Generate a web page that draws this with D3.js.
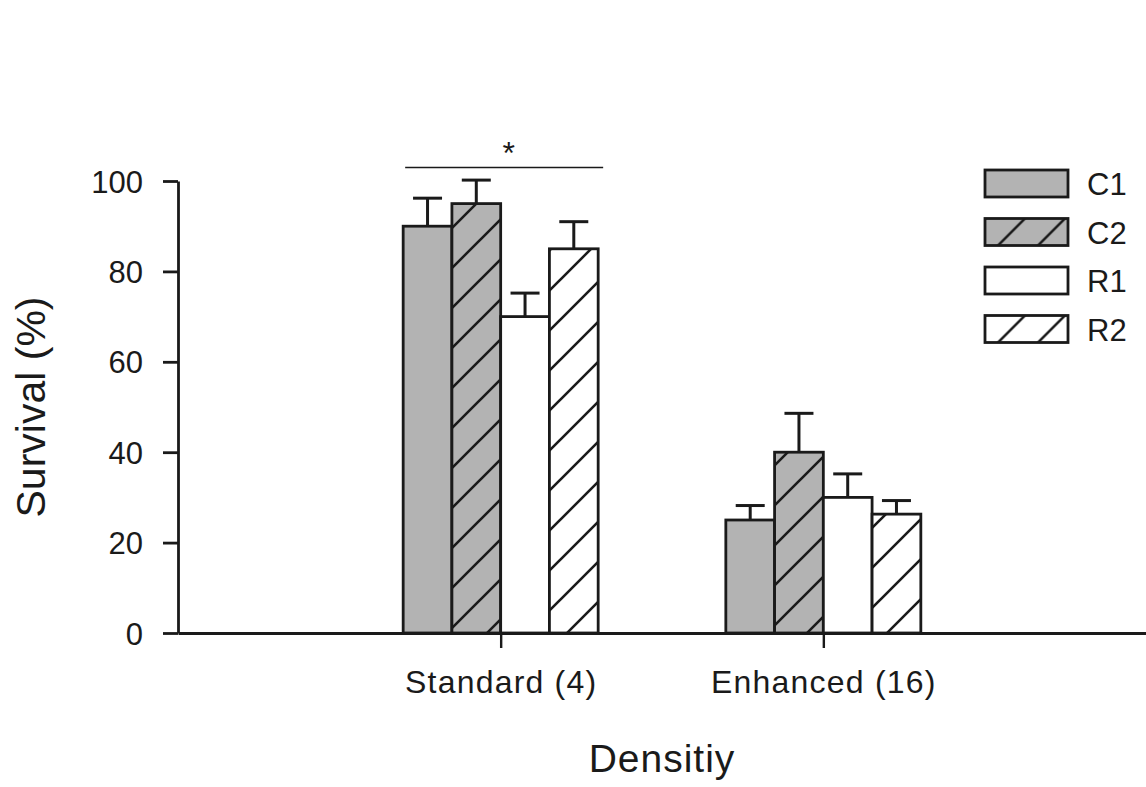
<!DOCTYPE html>
<html>
<head>
<meta charset="utf-8">
<script src="https://cdn.jsdelivr.net/npm/d3@7"></script>
<style>
  body { margin: 0; background: #fff; }
  text { font-family: "Liberation Sans", Arial, sans-serif; fill: #1a1a1a; }
</style>
</head>
<body>
<div id="chart"></div>
<script>
// data
let categories = ["Standard (4)", "Enhanced (16)"];
let series = ["C1", "C2", "R1", "R2"];
let means = {
	C1: [90, 25],
	C2: [95, 40],
	R1: [70, 30],
	R2: [85, 26.3]
};
let errors = {
	C1: [6.2, 3.2],
	C2: [5.2, 8.6],
	R1: [5.2, 5.2],
	R2: [6, 3]
};
let yTicks = [0, 20, 40, 60, 80, 100];
let sigLevel = 103;

let svgWidth = 1146;
let svgHeight = 787;

let fills = { C1: "#b3b3b3", C2: "#b3b3b3", R1: "#ffffff", R2: "#ffffff" };
let hatched = { C1: false, C2: true, R1: false, R2: true };
let ink = "#1a1a1a";

let svg = d3.select("#chart")
	.append("svg")
	.attr("width", svgWidth)
	.attr("height", svgHeight);

// hatch patterns
let defs = svg.append("defs");
["gray", "white"].forEach(name => {
	let p = defs.append("pattern")
		.attr("id", "hatch-" + name)
		.attr("patternUnits", "userSpaceOnUse")
		.attr("width", 40)
		.attr("height", 40);
	p.append("rect")
		.attr("width", 40).attr("height", 40)
		.attr("fill", name == "gray" ? "#b3b3b3" : "#ffffff");
	p.append("path")
		.attr("d", "M-5,45 L45,-5 M-5,5 L5,-5 M35,45 L45,35")
		.attr("stroke", ink)
		.attr("stroke-width", 2.6);
});

function fillFor(s) {
	if (hatched[s]) return fills[s] == "#ffffff" ? "url(#hatch-white)" : "url(#hatch-gray)";
	return fills[s];
}

let x = d3.scalePoint()
	.domain(categories)
	.range([178, 1146])
	.padding(1);

let groupWidth = 195;
let xSub = d3.scaleBand()
	.domain(series)
	.range([-groupWidth / 2, groupWidth / 2]);

let y = d3.scaleLinear()
	.domain([0, 100])
	.range([633, 181]);

// bars
let rows = [];
categories.forEach((c, i) => {
	series.forEach(s => rows.push({ cat: c, s: s, v: means[s][i], e: errors[s][i] }));
});

let bars = svg.append("g");
bars.selectAll("rect")
	.data(rows)
	.enter()
	.append("rect")
	.attr("x", d => x(d.cat) + xSub(d.s))
	.attr("y", d => y(d.v))
	.attr("width", xSub.bandwidth())
	.attr("height", d => y(0) - y(d.v))
	.attr("fill", d => fillFor(d.s))
	.attr("stroke", ink)
	.attr("stroke-width", 2.8);

// error bars (upper only)
let errG = svg.append("g")
	.attr("stroke", ink)
	.attr("stroke-width", 3);
rows.forEach(d => {
	let cx = x(d.cat) + xSub(d.s) + xSub.bandwidth() / 2;
	errG.append("line")
		.attr("x1", cx).attr("x2", cx)
		.attr("y1", y(d.v)).attr("y2", y(d.v + d.e));
	errG.append("line")
		.attr("x1", cx - 14.5).attr("x2", cx + 14.5)
		.attr("y1", y(d.v + d.e)).attr("y2", y(d.v + d.e));
});

// axes
let leftAxis = d3.axisLeft(y)
	.tickValues(yTicks)
	.tickSize(15)
	.tickSizeOuter(0)
	.tickPadding(20);

let yAxisG = svg.append("g")
	.attr("transform", `translate(${x.range()[0]}, 0)`)
	.call(leftAxis);
yAxisG.select(".domain").attr("stroke", ink).attr("stroke-width", 2.8);
yAxisG.selectAll(".tick line").attr("stroke", ink).attr("stroke-width", 2.8);
yAxisG.selectAll(".tick text")
	.attr("font-size", 31)
	.attr("dy", "0.36em")
	.style("font-family", "'Liberation Sans', Arial, sans-serif")
	.attr("fill", ink);

let bottomAxis = d3.axisBottom(x)
	.tickSize(15)
	.tickSizeOuter(0)
	.tickPadding(22);

let xAxisG = svg.append("g")
	.attr("transform", `translate(0, ${y(0)})`)
	.call(bottomAxis);
xAxisG.select(".domain").attr("stroke", ink).attr("stroke-width", 2.8);
xAxisG.selectAll(".tick line").attr("stroke", ink).attr("stroke-width", 2.4);
xAxisG.selectAll(".tick text")
	.attr("font-size", 32)
	.attr("letter-spacing", 1.2)
	.style("font-family", "'Liberation Sans', Arial, sans-serif")
	.attr("fill", ink);

// axis titles
svg.append("text")
	.attr("x", 662)
	.attr("y", 772)
	.attr("text-anchor", "middle")
	.attr("font-size", 39)
	.attr("letter-spacing", 1)
	.text("Densitiy");

svg.append("text")
	.attr("transform", "translate(45, 407) rotate(-90)")
	.attr("text-anchor", "middle")
	.attr("font-size", 41)
	.text("Survival (%)");

// significance line and star
let sx0 = x(categories[0]) + xSub(series[0]);
let sx1 = x(categories[0]) + xSub(series[3]) + xSub.bandwidth();
svg.append("line")
	.attr("x1", sx0 + 2).attr("x2", sx1 + 5)
	.attr("y1", y(sigLevel)).attr("y2", y(sigLevel))
	.attr("stroke", ink)
	.attr("stroke-width", 1.6);
svg.append("text")
	.attr("x", (sx0 + sx1) / 2 + 8)
	.attr("y", 164)
	.attr("text-anchor", "middle")
	.attr("font-size", 32)
	.text("*");

// legend
let legend = svg.append("g")
	.attr("transform", "translate(985, 170)");
series.forEach((s, i) => {
	let row = legend.append("g")
		.attr("transform", `translate(0, ${i * 48.5})`);
	row.append("rect")
		.attr("width", 83)
		.attr("height", 27)
		.attr("fill", fillFor(s))
		.attr("stroke", ink)
		.attr("stroke-width", 2.8);
	row.append("text")
		.attr("x", 102)
		.attr("y", 25)
		.attr("font-size", 31)
		.text(s);
});
</script>
</body>
</html>
